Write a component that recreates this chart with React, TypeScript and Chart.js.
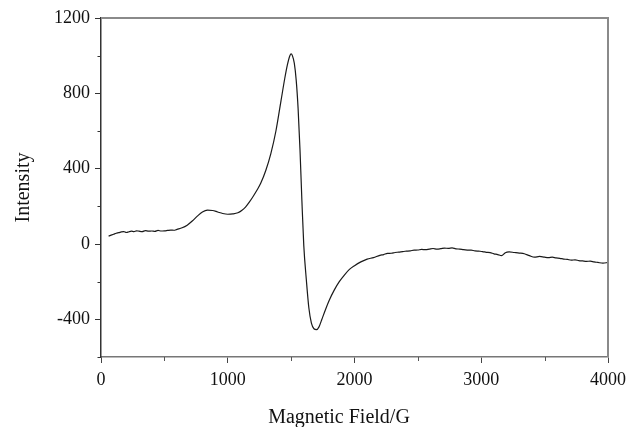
import React, { useEffect, useRef } from 'react';
import { Chart, registerables } from 'chart.js';

Chart.register(...registerables);

// Magnetic field (G)
const fieldG = [
  60, 80, 100, 120, 140, 160, 180, 200, 220, 240, 260, 280, 300, 325, 350, 375, 400, 425, 450,
  475, 500, 525, 550, 575, 600, 640, 680, 720, 760, 800,
  840, 880, 920, 960, 1000, 1040, 1080, 1110, 1140, 1170, 1200, 1230, 1260, 1300, 1340, 1380,
  1420, 1450, 1470, 1490, 1500, 1510, 1525, 1540, 1555, 1570, 1585, 1600, 1620, 1640, 1660,
  1680, 1700, 1720, 1740, 1770, 1800, 1840, 1880, 1920, 1960, 2000, 2050, 2100, 2150, 2200,
  2230, 2260, 2290, 2320, 2350, 2380, 2410, 2440, 2470, 2500, 2530, 2560, 2590, 2620, 2650,
  2680, 2710, 2740, 2770, 2800, 2830, 2860, 2890, 2920, 2950, 2980, 3010, 3040, 3070, 3100,
  3130, 3160, 3190, 3220, 3260, 3300, 3340, 3380, 3420, 3460, 3500, 3530, 3560, 3590, 3620,
  3650, 3680, 3710, 3740, 3770, 3800, 3830, 3860, 3890, 3920, 3960, 4000,
];

// EPR intensity
const intensity = [
  42, 47, 52, 57, 60, 64, 66, 61, 65, 68, 66, 70, 68, 66, 71, 68, 69, 67, 72,
  69, 70, 72, 74, 73, 78, 86, 100, 122, 148, 170,
  180, 178, 170, 162, 158, 160, 166, 178, 196, 222, 252, 285, 322, 390, 480, 600,
  760, 880, 950, 1000, 1010, 1000, 960, 870, 720, 500, 230, -10, -190, -340, -420,
  -450, -455, -440, -405, -350, -300, -245, -200, -165, -135, -115, -95, -80, -72, -60,
  -56, -50, -49, -45, -43, -40, -38, -36, -33, -32, -29, -30, -27, -24, -27,
  -25, -22, -23, -21, -26, -27, -30, -32, -33, -36, -38, -40, -44, -46, -52,
  -56, -62, -46, -42, -45, -48, -52, -62, -70, -66, -70, -72, -70, -74, -76,
  -80, -82, -86, -84, -88, -90, -92, -91, -95, -98, -102, -98, -100,
];

const xMajorStep = 1000;
const xMinorStep = 500;
const yMajorStep = 400;
const yMinorStep = 200;
const xRange = [0, 4000];
const yRange = [-600, 1200];
const xTitle = 'Magnetic Field/G';
const yTitle = 'Intensity';

const FONT = '"Liberation Serif", "Times New Roman", serif';

const framePlugin = {
  id: 'framePlugin',
  afterDraw(chart: any) {
    const { ctx, chartArea: a, scales } = chart;
    ctx.save();
    // top & right frame
    ctx.strokeStyle = '#8a8a8a';
    ctx.lineWidth = 2;
    ctx.beginPath();
    ctx.moveTo(a.left, a.top);
    ctx.lineTo(a.right, a.top);
    ctx.lineTo(a.right, a.bottom);
    ctx.stroke();

    // minor ticks
    ctx.lineWidth = 1;
    ctx.strokeStyle = '#333';
    for (let v = yRange[0]; v <= yRange[1]; v += yMinorStep) {
      if (v % yMajorStep === 0) continue;
      const py = Math.round(scales.y.getPixelForValue(v)) + 0.5;
      ctx.beginPath();
      ctx.moveTo(a.left - 3.5, py);
      ctx.lineTo(a.left, py);
      ctx.stroke();
    }
    ctx.strokeStyle = '#555';
    for (let v = xRange[0]; v <= xRange[1]; v += xMinorStep) {
      if (v % xMajorStep === 0) continue;
      const px = Math.round(scales.x.getPixelForValue(v)) + 0.5;
      ctx.beginPath();
      ctx.moveTo(px, a.bottom);
      ctx.lineTo(px, a.bottom + 4);
      ctx.stroke();
    }

    // titles
    ctx.fillStyle = '#111';
    ctx.font = `20px ${FONT}`;
    ctx.textAlign = 'center';
    ctx.textBaseline = 'alphabetic';
    ctx.fillText(xTitle, (a.left + a.right) / 2 - 15.5, chart.height - 4);

    ctx.translate(28.5, (a.top + a.bottom) / 2);
    ctx.rotate(-Math.PI / 2);
    ctx.fillText(yTitle, 0, 0);
    ctx.restore();
  },
};

export default function App() {
  const ref = useRef<HTMLCanvasElement | null>(null);

  useEffect(() => {
    if (!ref.current) return;
    const data = fieldG.map((x, i) => ({ x, y: intensity[i] }));
    const chart = new Chart(ref.current, {
      type: 'scatter',
      data: {
        datasets: [
          {
            data,
            showLine: true,
            borderColor: '#1a1a1a',
            borderWidth: 1.2,
            pointRadius: 0,
            cubicInterpolationMode: 'monotone',
            fill: false,
          } as any,
        ],
      },
      options: {
        animation: false,
        responsive: false,
        devicePixelRatio: 1,
        layout: { padding: { top: 18, right: 19, left: 0, bottom: 0 } },
        plugins: { legend: { display: false }, tooltip: { enabled: false } },
        scales: {
          x: {
            type: 'linear',
            min: xRange[0],
            max: xRange[1],
            afterFit: (s: any) => {
              s.height = 70;
              s.paddingLeft = 0;
              s.paddingRight = 0;
            },
            border: { color: '#777', width: 1.5 },
            grid: {
              drawOnChartArea: false,
              tickLength: 6,
              tickWidth: 1,
              tickColor: (c: any) => (c.tick && c.tick.value % xMajorStep === 0 ? '#444' : 'rgba(0,0,0,0)'),
            },
            ticks: {
              stepSize: xMinorStep,
              autoSkip: false,
              maxRotation: 0,
              padding: 6,
              color: '#111',
              font: { family: FONT, size: 18 },
              callback: (v: any) => (Number(v) % xMajorStep === 0 ? String(v) : ''),
            },
          },
          y: {
            type: 'linear',
            min: yRange[0],
            max: yRange[1],
            afterFit: (s: any) => {
              s.width = 101;
              s.paddingTop = 0;
              s.paddingBottom = 0;
            },
            border: { color: '#333', width: 1.5 },
            grid: {
              drawOnChartArea: false,
              tickLength: 6,
              tickWidth: 1,
              tickColor: (c: any) => (c.tick && c.tick.value % yMajorStep === 0 ? '#333' : 'rgba(0,0,0,0)'),
            },
            ticks: {
              stepSize: yMinorStep,
              autoSkip: false,
              padding: 5,
              color: '#111',
              font: { family: FONT, size: 18 },
              callback: (v: any) => (Number(v) % yMajorStep === 0 ? String(v) : ''),
            },
          },
        },
      },
      plugins: [framePlugin],
    });
    return () => chart.destroy();
  }, []);

  return (
    <div style={{ position: 'absolute', left: 0, top: 0, width: 627, height: 427, background: '#fff' }}>
      <canvas ref={ref} width={627} height={427} style={{ display: 'block' }} />
    </div>
  );
}
